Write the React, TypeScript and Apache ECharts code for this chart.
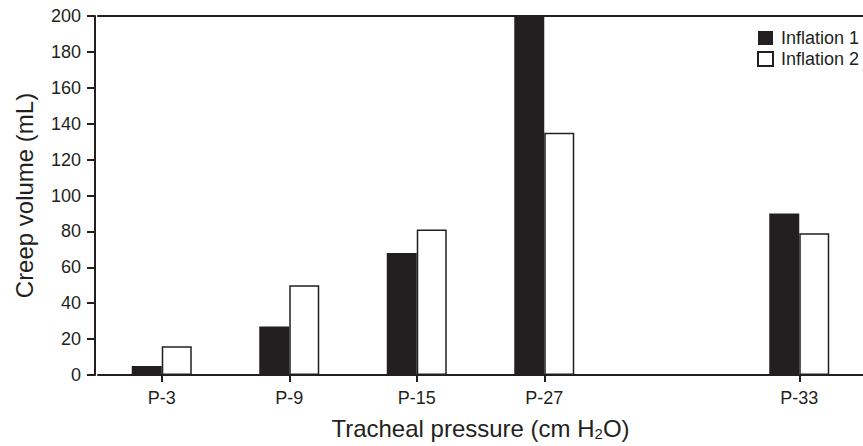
import React, { useEffect, useRef } from "react";
import * as echarts from "echarts";

const categories = ["P-3", "P-9", "P-15", "P-27", "", "P-33"];
const inflation1 = [5, 27, 68, 200, null, 90];
const inflation2 = [16, 50, 81, 135, null, 79];
const yTicks = { min: 0, max: 200, interval: 20 };

const INK = "#231f20";
const FONT = "'Liberation Sans', Arial, sans-serif";

export default function App() {
  const ref = useRef<HTMLDivElement>(null);
  useEffect(() => {
    document.body.style.margin = "0";
    if (!ref.current) return;
    const chart = echarts.init(ref.current, null, { renderer: "svg" });
    chart.setOption({
      animation: false,
      backgroundColor: "#ffffff",
      textStyle: { fontFamily: FONT, color: INK },
      grid: { left: 98, right: -12, top: 16, bottom: 69, containLabel: false },
      legend: {
        orient: "vertical",
        left: 757,
        top: 29,
        padding: 0,
        itemWidth: 15,
        itemHeight: 14,
        itemGap: 3,
        icon: "rect",
        textStyle: { fontFamily: FONT, fontSize: 18, lineHeight: 18, color: INK, padding: [0, 0, 0, 3] },
        data: [
          { name: "Inflation 1", itemStyle: { color: INK, borderWidth: 0 } },
          { name: "Inflation 2", itemStyle: { color: "#ffffff", borderColor: INK, borderWidth: 2 } },
        ],
      },
      xAxis: [
        {
          type: "category",
          data: categories,
          position: "bottom",
          axisLine: { show: true, lineStyle: { color: INK, width: 2 } },
          axisTick: {
            show: true,
            alignWithLabel: true,
            length: 7,
            lineStyle: { color: INK, width: 2 },
            interval: (idx: number, val: string) => val !== "",
          },
          axisLabel: { fontFamily: FONT, fontSize: 18, color: INK, margin: 14, interval: 0 },
          splitLine: { show: false },
          name: "{a|Tracheal pressure (cm H}{sub|2}{a|O)}",
          nameLocation: "middle",
          nameGap: 41,
          nameTextStyle: {
            rich: {
              a: { fontFamily: FONT, fontSize: 24, lineHeight: 25, color: INK },
              sub: { fontFamily: FONT, fontSize: 15, lineHeight: 25, color: INK, padding: [10, 0, 0, 0] },
            },
          },
        },
        {
          type: "category",
          data: categories,
          position: "top",
          axisLine: { show: true, lineStyle: { color: INK, width: 2 } },
          axisTick: { show: false },
          axisLabel: { show: false },
        },
      ],
      yAxis: {
        type: "value",
        min: yTicks.min,
        max: yTicks.max,
        interval: yTicks.interval,
        offset: 3,
        axisLine: { show: true, lineStyle: { color: INK, width: 2 } },
        axisTick: { show: true, length: 8, lineStyle: { color: INK, width: 2 } },
        axisLabel: { fontFamily: FONT, fontSize: 18, color: INK, margin: 14 },
        splitLine: { show: false },
        name: "Creep volume (mL)",
        nameLocation: "middle",
        nameGap: 59,
        nameTextStyle: { fontFamily: FONT, fontSize: 24, color: INK },
      },
      series: [
        {
          name: "Inflation 1",
          type: "bar",
          data: inflation1,
          barWidth: 30,
          barGap: "0%",
          itemStyle: { color: INK },
        },
        {
          name: "Inflation 2",
          type: "bar",
          data: inflation2,
          barWidth: 30,
          barGap: "0%",
          itemStyle: { color: "#ffffff", borderColor: INK, borderWidth: 1.5 },
        },
      ],
    });
    return () => chart.dispose();
  }, []);
  return (
    <div
      ref={ref}
      style={{ position: "absolute", left: 0, top: 0, width: 863, height: 446 }}
    />
  );
}
